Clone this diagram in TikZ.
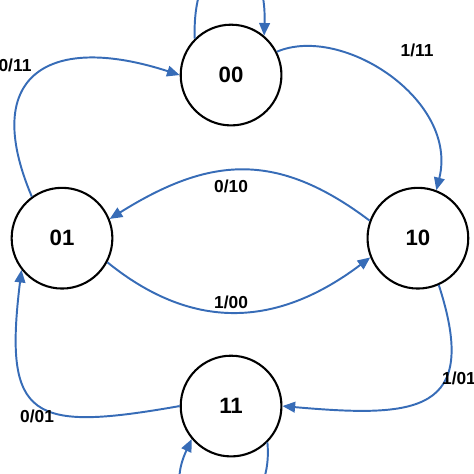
\documentclass[tikz,border=0pt]{standalone}
\usepackage{fontspec}
\setmainfont{Liberation Sans}
\usetikzlibrary{arrows.meta}
\definecolor{arcblue}{RGB}{55,108,183}

\begin{document}
\begin{tikzpicture}[>={Triangle[length=0.32cm,width=0.27cm]}]
	\tikzstyle{state}=[draw,shape=circle,line width=1.5pt,minimum size=2.55cm,inner sep=0pt,font=\fontsize{16}{19}\selectfont\bfseries]
	\tikzstyle{trans}=[draw=arcblue,line width=1.4pt,->]
	\tikzstyle{lab}=[font=\fontsize{12.5}{15}\selectfont\bfseries]
	
	\clip (0,0) rectangle (12,12);
	
	\node[state](s00) at (5.85,10.10){00};
	\node[state](s01) at (1.57,5.97){01};
	\node[state](s10) at (10.58,5.97){10};
	\node[state](s11) at (5.85,1.72){11};
	
	% self loops, cut by the page edge
	\draw[trans] (s00.135) .. controls +(92:2.6) and +(88:2.6) .. (s00.50);
	\draw[trans] (s11.-45) .. controls +(-85:2.6) and +(-115:2.6) .. (s11.220);
	
	\draw[trans] (s01.126) to[out=113, in=162, looseness=1.8] (s00.west);
	\draw[trans] (s00.27) .. controls +(23:1.8) and +(76:2.35) .. (s10.69);
	\draw[trans] (s10.160) to[out=143, in=32, looseness=1.15] (s01.22);
	\draw[trans] (s01.-28) to[out=-39, in=217, looseness=1.1] (s10.202);
	\draw[trans] (s10.-66) to[out=-72, in=-5, looseness=1.75] (s11.east);
	\draw[trans] (s11.west) to[out=190, in=263, looseness=1.85] (s01.218);
	
	\node[lab](l0100) at (0.38,10.35){0/11};
	\node[lab](l0010) at (10.56,10.73){1/11};
	\node[lab](l1001) at (5.85,7.29){0/10};
	\node[lab](l0110) at (5.85,4.35){1/00};
	\node[lab](l1011) at (11.62,2.41){1/01};
	\node[lab](l1101) at (0.94,1.47){0/01};
	
\end{tikzpicture}
\end{document}
